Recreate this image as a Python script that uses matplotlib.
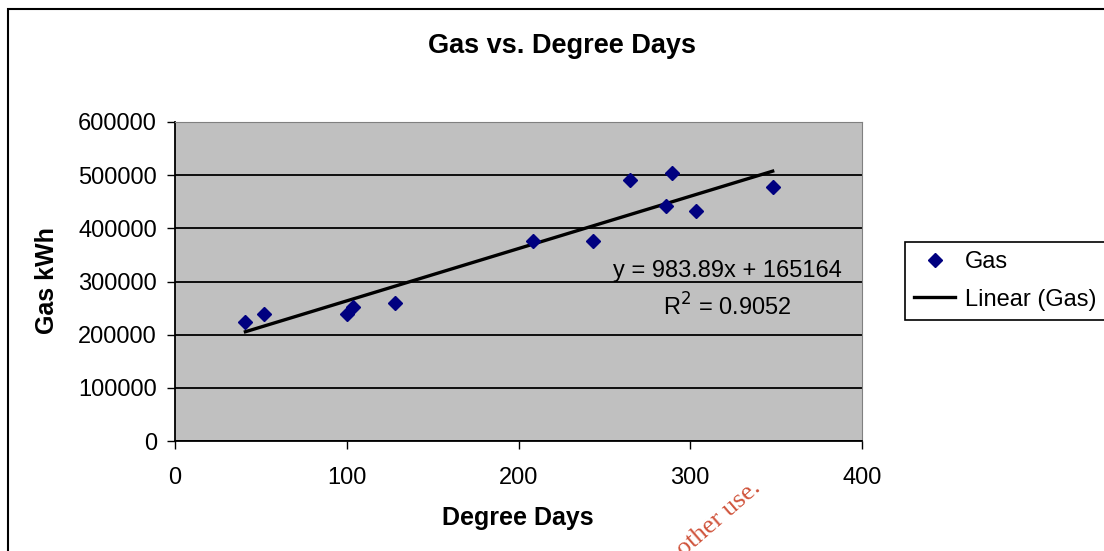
import numpy as np
import matplotlib
matplotlib.use("Agg")
import matplotlib.pyplot as plt
from matplotlib.patches import Rectangle

plt.rcParams['font.family'] = ['Liberation Sans', 'DejaVu Sans']

W, H = 1104, 551

# readings
degree_days = [41.0, 51.9, 100.0, 103.9, 128.3, 208.6, 243.4, 264.7, 286.0, 289.1, 303.4, 348.0]
gas_kwh = [223000, 239400, 238100, 251900, 258700, 376900, 376200, 490600, 441200, 505000, 432500, 478100]

# trendline as printed on chart
slope = 983.89
intercept = 165164
r_squared = 0.9052


def fx(px):
    return px / W


def fy(py):
    return 1 - py / H


fig = plt.figure(figsize=(W / 100, H / 100), dpi=100)
ax = fig.add_axes([fx(175), fy(441), 687 / W, 319 / H])

# outer chart border (right and bottom run off the picture)
fig.patches.append(Rectangle((fx(8), -0.1), 1.2, fy(9) + 0.1, transform=fig.transFigure,
                             fill=False, edgecolor='black', linewidth=1.5))

ax.set_facecolor('#c0c0c0')
ax.set_xlim(0, 400)
ax.set_ylim(0, 600000)
ax.set_xticks([0, 100, 200, 300, 400])
ax.set_yticks(np.arange(0, 600001, 100000))
ax.yaxis.grid(True, color='black', linewidth=1.3)
ax.set_axisbelow(True)
for s in ['top', 'right']:
    ax.spines[s].set_color('#808080')
for s in ['left', 'bottom']:
    ax.spines[s].set_color('black')
    ax.spines[s].set_linewidth(1.3)
ax.tick_params(axis='y', direction='out', length=6, width=1, labelsize=17, pad=7)
ax.tick_params(axis='x', direction='out', length=6, width=1, labelsize=17, pad=13)

ax.plot(degree_days, gas_kwh, linestyle='none', marker='D', markersize=7,
        color='#000080', label='Gas', zorder=3)
xs = np.array([min(degree_days), max(degree_days)])
ax.plot(xs, slope * xs + intercept, color='black', linewidth=2.4, label='Linear (Gas)', zorder=2)

fig.text(fx(727), fy(271), 'y = %.2fx + %d' % (slope, intercept), fontsize=17, ha='center', va='center')
fig.text(fx(727), fy(307), 'R$^2$ = %.4f' % r_squared, fontsize=17, ha='center', va='center')

fig.text(fx(562), fy(46), 'Gas vs. Degree Days', fontsize=19.5, fontweight='bold',
         ha='center', va='center')
fig.text(fx(518), fy(518), 'Degree Days', fontsize=18, fontweight='bold',
         ha='center', va='center')
fig.text(fx(47), fy(281), 'Gas kWh', fontsize=18, fontweight='bold',
         ha='center', va='center', rotation=90)

leg = ax.legend(loc='upper left', bbox_to_anchor=(fx(905), fy(242)),
                bbox_transform=fig.transFigure, borderaxespad=0, frameon=True, fancybox=False,
                fontsize=17, handlelength=1.75, borderpad=0.38, labelspacing=0.66,
                handletextpad=0.4)
leg.get_frame().set_edgecolor('black')
leg.get_frame().set_linewidth(1.2)
leg.get_frame().set_alpha(1)

# watermark fragment
fig.text(fx(762), fy(490), 'other use.', fontsize=19, color='#d0543c',
         family=['Liberation Serif', 'DejaVu Serif'], rotation=41, ha='right', va='baseline',
         rotation_mode='anchor')

fig.savefig('out.png', dpi=100)
